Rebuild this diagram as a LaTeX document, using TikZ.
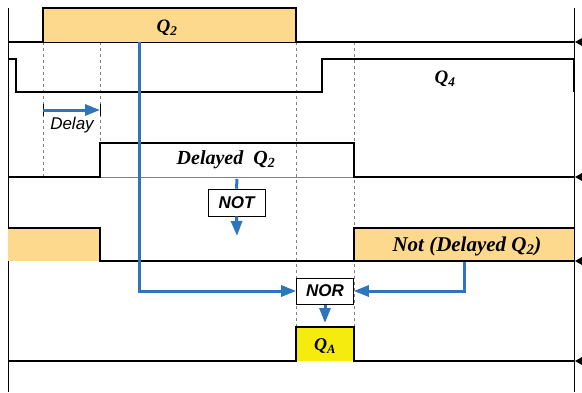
\documentclass[tikz,border=0pt]{standalone}
\usepackage{fontspec}
\setmainfont{Liberation Serif}
\setsansfont{Liberation Sans}
\usetikzlibrary{arrows.meta}

\definecolor{pulsefill}{RGB}{253,217,142}
\definecolor{outfill}{RGB}{245,235,12}
\definecolor{flowblue}{RGB}{46,117,190}

\tikzset{
  wave/.style={line width=2.5pt, line join=miter},
  guide/.style={gray, dashed, line width=0.7pt},
  flow/.style={flowblue, line width=3pt},
  flowarrow/.style={flow, -{Triangle[length=15pt,width=11pt]}},
  gatebox/.style={draw, fill=white, line width=0.6pt, minimum width=57pt,
    minimum height=27pt, inner sep=0pt,
    font=\sffamily\bfseries\itshape\fontsize{17}{18}\selectfont},
  siglabel/.style={font=\bfseries\itshape\fontsize{19}{20}\selectfont},
}

\begin{document}
\begin{tikzpicture}[x=1pt, y=-1pt]
\useasboundingbox (0,0) rectangle (582,392);
% frame
\draw[line width=1pt] (8,8) -- (8,392);
\draw[line width=1pt] (574,8) -- (574,392);
% timing guides
\draw[guide] (43,42) -- (43,177);
\draw[guide] (100,42) -- (100,177);
\draw[guide] (296,42) -- (296,327);
\draw[guide] (354,42) -- (354,327);
% Q2
\fill[pulsefill] (43,8) rectangle (296,42);
\draw[line width=0.8pt] (43,42) -- (296,42);
\draw[wave] (8,42) -- (43,42) -- (43,8) -- (296,8) -- (296,42) -- (574,42);
% Q4
\draw[wave] (8,59) -- (16,59) -- (16,92) -- (322,92) -- (322,59) -- (574,59) -- (574,92);
% delay marker
\draw[line width=1pt] (43,104) -- (43,116) (100,104) -- (100,116);
\coordinate (delayA) at (43,110);
\coordinate (delayB) at (100,110);
\draw[flowarrow] (delayA) -- (delayB);
% delayed Q2
\draw[gray, line width=0.8pt] (100,177) -- (354,177);
\draw[wave] (8,177) -- (100,177) -- (100,143) -- (354,143) -- (354,177) -- (574,177);
% not delayed Q2
\fill[pulsefill] (8,228) rectangle (100,261);
\fill[pulsefill] (354,228) rectangle (574,261);
\draw[wave] (8,228) -- (100,228) -- (100,261) -- (574,261);
\draw[wave] (354,261) -- (354,228) -- (574,228);
% QA
\fill[outfill] (296,327) rectangle (354,361);
\draw[wave] (8,361) -- (296,361) -- (296,327) -- (354,327) -- (354,361) -- (574,361);
% end tips
\foreach \y in {42,177,261,361}
  \fill (575,\y) -- (583,\y-4.5) -- (583,\y+4.5) -- cycle;

% labels
\node[siglabel] (lblQtwo) at (167,28) {Q\textsubscript{2}};
\node[siglabel] (lblQfour) at (445,79) {Q\textsubscript{4}};
\node[font=\sffamily\itshape\fontsize{17}{18}\selectfont] (lblDelay) at (72,125) {Delay};
\node[siglabel, font=\bfseries\itshape\fontsize{20}{21}\selectfont] (lblDelayed) at (226,160) {Delayed\ \ Q\textsubscript{2}};
\node[siglabel, font=\bfseries\itshape\fontsize{21}{22}\selectfont] (lblNotDelayed) at (467,246) {Not (Delayed Q\textsubscript{2})};
\node[siglabel, font=\bfseries\itshape\fontsize{18}{19}\selectfont] (lblQA) at (325,346) {Q\textsubscript{A}};

% gates
\node[gatebox] (notgate) at (236.5,202.5) {NOT};
\node[gatebox, minimum height=26pt] (norgate) at (325,291) {NOR};

% signal flow
\coordinate (delayedTap) at (237,179);
\coordinate (notOut) at (237,236);
\draw[flow] (delayedTap) -- (notgate.north);
\draw[flowarrow] (notgate.south) -- (notOut);
\coordinate (qtwoTap) at (139,42);
\coordinate (notDelayedTap) at (464,262);
\draw[flowarrow] (qtwoTap) |- (norgate.west);
\draw[flowarrow] (notDelayedTap) |- (norgate.east);
\coordinate (qaTop) at (325,323);
\draw[flowarrow, shorten <=1pt] (norgate.south) -- (qaTop);
\end{tikzpicture}
\end{document}
